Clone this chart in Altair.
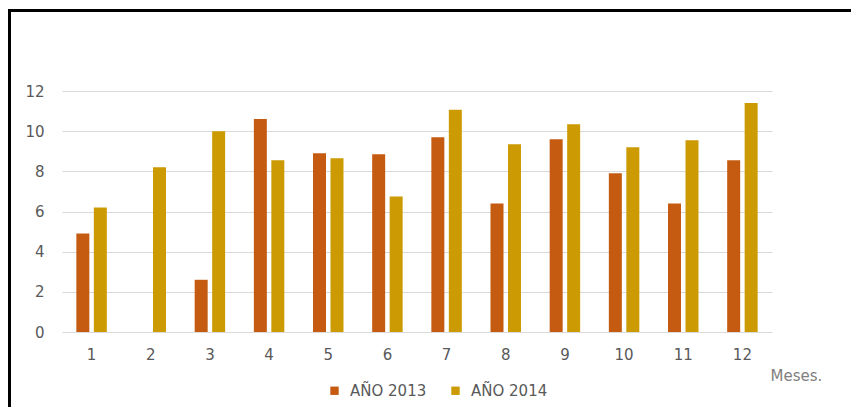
import altair as alt
import pandas as pd

months = [str(m) for m in range(1, 13)]
series = ["AÑO 2013", "AÑO 2014"]
v2013 = [4.9, 0, 2.6, 10.6, 8.9, 8.85, 9.7, 6.4, 9.6, 7.9, 6.4, 8.55]
v2014 = [6.2, 8.2, 10.0, 8.55, 8.65, 6.75, 11.07, 9.35, 10.35, 9.2, 9.55, 11.4]
colors = ["#C55A11", "#CC9A02"]

rows = []
for i, m in enumerate(months):
    rows.append({"mes": m, "serie": series[0], "valor": v2013[i]})
    rows.append({"mes": m, "serie": series[1], "valor": v2014[i]})
df = pd.DataFrame(rows)

FONT = "DejaVu Sans"

bars = alt.Chart(df).mark_bar().encode(
    x=alt.X("mes:N", sort=months,
            scale=alt.Scale(paddingInner=0.485, paddingOuter=0.2425),
            axis=alt.Axis(title="Meses.", labelAngle=0, ticks=False, domain=False,
                          labelPadding=15, labelFontSize=15, labelColor="#595959",
                          labelFont=FONT, titleFont=FONT, titleFontSize=15,
                          titleColor="#808080", titleFontWeight="normal",
                          titleX=708, titleY=43, titleAlign="left",
                          titleBaseline="middle", titleAnchor="start")),
    xOffset=alt.XOffset("serie:N", sort=series,
                        scale=alt.Scale(paddingInner=0.257, paddingOuter=0)),
    y=alt.Y("valor:Q", scale=alt.Scale(domain=[0, 12], nice=False),
            axis=alt.Axis(values=[0, 2, 4, 6, 8, 10, 12], title=None, ticks=False,
                          domain=False, labelPadding=18, labelFontSize=15,
                          labelColor="#595959", labelFont=FONT,
                          gridColor="#D9D9D9", gridWidth=1)),
    color=alt.Color("serie:N", sort=series,
                    scale=alt.Scale(domain=series, range=colors),
                    legend=alt.Legend(title=None, orient="none", direction="horizontal",
                                      legendX=265, legendY=292, padding=0,
                                      symbolType="square", symbolSize=70,
                                      symbolStrokeWidth=0, labelFontSize=15,
                                      labelColor="#595959", labelFont=FONT,
                                      labelOffset=8, columnPadding=21)),
)

# decorative frame (top and left edges of the original picture)
top_border = alt.Chart(df).mark_rule(color="black", strokeWidth=3, clip=False).encode(
    x=alt.value(-54), x2=alt.value(800), y=alt.value(-80.5)
)
left_border = alt.Chart(df).mark_rule(color="black", strokeWidth=3, clip=False).encode(
    x=alt.value(-52.5), y=alt.value(-82), y2=alt.value(330)
)

chart = alt.layer(bars, top_border, left_border).properties(
    width=710, height=241,
    autosize=alt.AutoSizeParams(type="none"),
    padding={"left": 54, "top": 83, "right": 79, "bottom": 75},
    background="white",
).configure_view(stroke=None)

chart.save("out.html", embed_options={"renderer": "svg", "actions": False})
